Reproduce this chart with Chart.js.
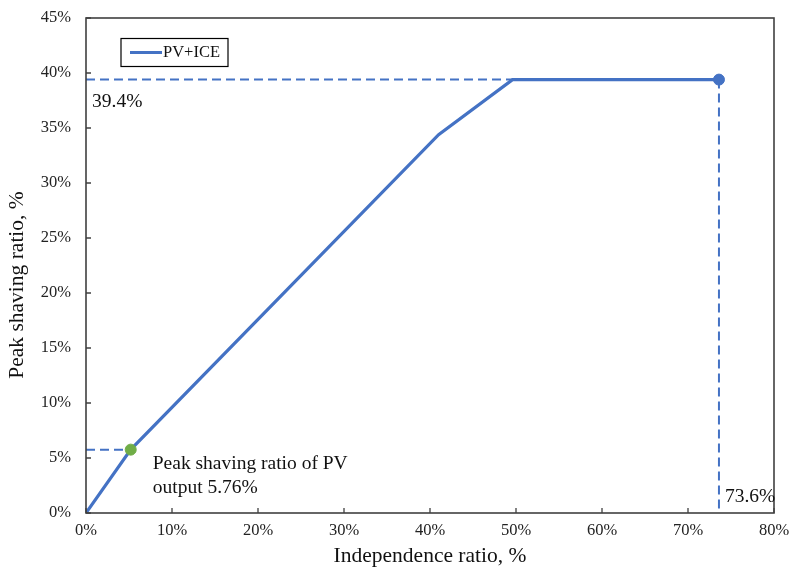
<!DOCTYPE html>
<html>
<head>
<meta charset="utf-8">
<script src="https://cdn.jsdelivr.net/npm/chart.js@4"></script>
<style>
  html, body { margin: 0; padding: 0; background: #fff; }
  #wrap { width: 792px; height: 569px; }
</style>
</head>
<body>
<div id="wrap"><canvas id="c" width="792" height="569"></canvas></div>
<script>
// Independence ratio (%) vs peak shaving ratio (%) for the PV+ICE system
const independence = [0, 5.2, 41.0, 49.6, 73.6];
const peakShaving  = [0, 5.76, 34.4, 39.4, 39.4];

// Highlighted points
const pvOnly   = { x: 5.2,  y: 5.76 };   // PV output alone
const maxPoint = { x: 73.6, y: 39.4 };   // maximum peak shaving

const xTicks = [0, 10, 20, 30, 40, 50, 60, 70, 80];
const yTicks = [0, 5, 10, 15, 20, 25, 30, 35, 40, 45];

const BLUE = '#4472C4';
const GREEN = '#70AD47';
const FONT = '"Liberation Serif", "Times New Roman", serif';

const mainLine = independence.map((x, i) => ({ x, y: peakShaving[i] }));

// Draws inward tick marks, the plot frame, the legend box, the y title and text notes
const decor = {
  id: 'decor',
  afterDraw(chart) {
    const { ctx, chartArea: a, scales: { x, y } } = chart;
    ctx.save();
    // inward ticks
    ctx.strokeStyle = '#404040';
    ctx.lineWidth = 1.3;
    ctx.beginPath();
    xTicks.forEach(v => {
      const px = x.getPixelForValue(v);
      ctx.moveTo(px, a.bottom); ctx.lineTo(px, a.bottom - 5);
    });
    yTicks.forEach(v => {
      const py = y.getPixelForValue(v);
      ctx.moveTo(a.left, py); ctx.lineTo(a.left + 5, py);
    });
    ctx.stroke();
    // frame
    ctx.strokeStyle = '#404040';
    ctx.lineWidth = 1.6;
    ctx.strokeRect(a.left, a.top, a.right - a.left, a.bottom - a.top);

    // legend
    ctx.lineWidth = 1.2;
    ctx.strokeStyle = '#000';
    ctx.strokeRect(121, 38.5, 107, 28);
    ctx.strokeStyle = BLUE;
    ctx.lineWidth = 3;
    ctx.beginPath(); ctx.moveTo(130, 52.5); ctx.lineTo(162, 52.5); ctx.stroke();
    ctx.fillStyle = '#111';
    ctx.font = '16.5px ' + FONT;
    ctx.textBaseline = 'middle';
    ctx.textAlign = 'left';
    ctx.fillText('PV+ICE', 163, 53);

    // y axis title
    ctx.save();
    ctx.translate(17, 285);
    ctx.rotate(-Math.PI / 2);
    ctx.textAlign = 'center';
    ctx.font = '21.5px ' + FONT;
    ctx.fillText('Peak shaving ratio, %', 0, 0);
    ctx.restore();

    // value notes
    ctx.font = '19.5px ' + FONT;
    ctx.fillStyle = '#111';
    ctx.fillText('39.4%', x.getPixelForValue(0) + 6, y.getPixelForValue(maxPoint.y) + 22);
    ctx.fillText('73.6%', x.getPixelForValue(maxPoint.x) + 6, a.bottom - 16);
    ctx.fillText('Peak shaving ratio of PV', x.getPixelForValue(pvOnly.x) + 22, y.getPixelForValue(pvOnly.y) + 14);
    ctx.fillText('output 5.76%', x.getPixelForValue(pvOnly.x) + 22, y.getPixelForValue(pvOnly.y) + 38);
    ctx.restore();
  }
};

new Chart(document.getElementById('c'), {
  type: 'scatter',
  data: {
    datasets: [
      {
        data: [{ x: 0, y: maxPoint.y }, { x: maxPoint.x, y: maxPoint.y }],
        showLine: true, borderColor: BLUE, borderWidth: 2, borderDash: [9, 5],
        pointRadius: 0, order: 5
      },
      {
        data: [{ x: maxPoint.x, y: maxPoint.y }, { x: maxPoint.x, y: 0 }],
        showLine: true, borderColor: BLUE, borderWidth: 2, borderDash: [9, 5],
        pointRadius: 0, order: 5
      },
      {
        data: [{ x: 0, y: pvOnly.y }, { x: pvOnly.x, y: pvOnly.y }],
        showLine: true, borderColor: BLUE, borderWidth: 2, borderDash: [9, 5],
        pointRadius: 0, order: 5
      },
      {
        label: 'PV+ICE',
        data: mainLine,
        showLine: true, borderColor: BLUE, borderWidth: 3.2,
        pointRadius: 0, order: 2
      },
      {
        data: [pvOnly],
        backgroundColor: GREEN, borderColor: GREEN, pointRadius: 5.5, order: 1
      },
      {
        data: [maxPoint],
        backgroundColor: BLUE, borderColor: BLUE, pointRadius: 5.5, order: 1
      }
    ]
  },
  options: {
    responsive: false,
    animation: false,
    layout: { padding: { top: 18, right: 18, left: 0, bottom: 0 } },
    plugins: { legend: { display: false }, tooltip: { enabled: false } },
    scales: {
      x: {
        type: 'linear', min: 0, max: 80,
        afterBuildTicks: s => { s.ticks = xTicks.map(v => ({ value: v })); },
        afterFit: s => { s.height = 56; s.paddingLeft = 0; s.paddingRight = 0; },
        grid: { display: false, drawTicks: false },
        border: { display: false },
        ticks: {
          padding: 8, color: '#222',
          font: { family: FONT, size: 16.5 },
          callback: v => v + '%'
        },
        title: {
          display: true, text: 'Independence ratio, %', color: '#111',
          font: { family: FONT, size: 21.5 }, padding: { top: 0, bottom: 0 }
        }
      },
      y: {
        type: 'linear', min: 0, max: 45,
        afterBuildTicks: s => { s.ticks = yTicks.map(v => ({ value: v })); },
        afterFit: s => { s.width = 86; s.paddingTop = 0; s.paddingBottom = 0; },
        grid: { display: false, drawTicks: false },
        border: { display: false },
        ticks: {
          padding: 15, color: '#222',
          font: { family: FONT, size: 16.5 },
          callback: v => v + '%'
        },
        title: { display: false }
      }
    }
  },
  plugins: [decor]
});
</script>
</body>
</html>
